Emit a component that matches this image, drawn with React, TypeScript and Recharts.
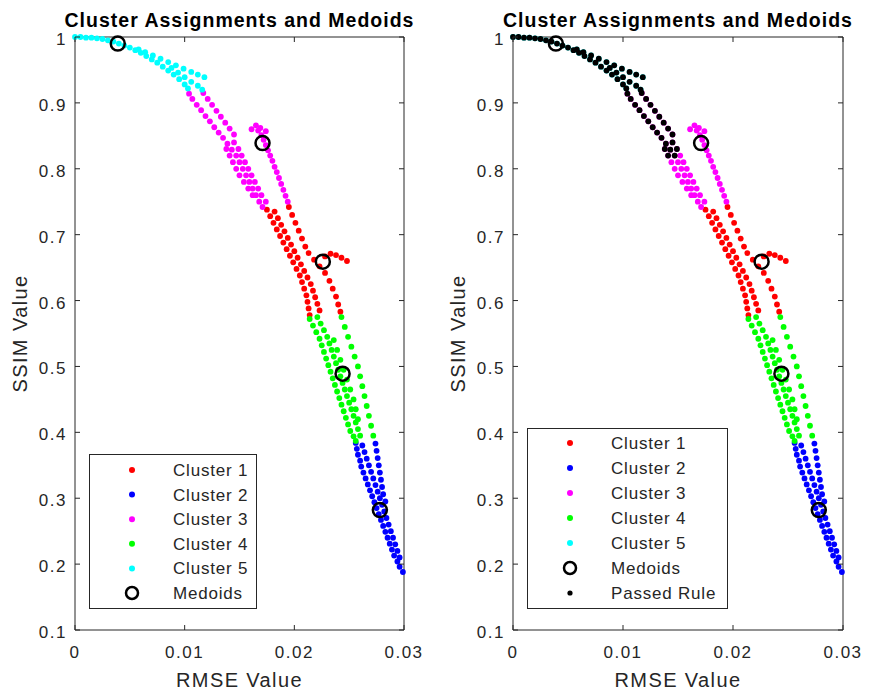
import { ScatterChart, Scatter, XAxis, YAxis, ReferenceArea, Legend } from 'recharts';

type Pt = [number, number];

// cluster 1 (red)
const CLUSTER_1: Pt[] = [
  [0.0175, 0.738], [0.0178, 0.728], [0.0181, 0.718], [0.0184, 0.708], [0.0187, 0.698], [0.019, 0.688],
  [0.0193, 0.678], [0.0196, 0.668], [0.0199, 0.658], [0.0202, 0.648], [0.0205, 0.638], [0.0207, 0.628],
  [0.0209, 0.618], [0.0211, 0.608], [0.0212, 0.598], [0.0213, 0.588], [0.0214, 0.578],
  [0.0182, 0.735], [0.0185, 0.725], [0.0188, 0.715], [0.0191, 0.705], [0.0194, 0.695], [0.0197, 0.685],
  [0.02, 0.675], [0.0203, 0.665], [0.0206, 0.655], [0.0209, 0.645], [0.0212, 0.635], [0.0215, 0.625],
  [0.0217, 0.615], [0.0219, 0.605], [0.0221, 0.595], [0.0223, 0.585],
  [0.0195, 0.742], [0.0198, 0.73], [0.0201, 0.718], [0.0204, 0.706], [0.0207, 0.694], [0.021, 0.682],
  [0.0213, 0.672], [0.0218, 0.662], [0.0223, 0.652], [0.0228, 0.642], [0.0232, 0.63], [0.0235, 0.618],
  [0.0238, 0.606], [0.024, 0.594], [0.0242, 0.583],
  [0.0228, 0.667], [0.0233, 0.671], [0.0238, 0.669], [0.0243, 0.665], [0.0248, 0.66],
];

// cluster 2 (blue)
const CLUSTER_2: Pt[] = [
  [0.0256, 0.384], [0.0257, 0.375], [0.0258, 0.366], [0.026, 0.357], [0.0261, 0.348], [0.0263, 0.339],
  [0.0265, 0.33], [0.0267, 0.321], [0.0269, 0.312], [0.0271, 0.303], [0.0273, 0.294], [0.0275, 0.285],
  [0.0277, 0.276], [0.0279, 0.267], [0.0281, 0.258], [0.0283, 0.249], [0.0285, 0.24], [0.0287, 0.231],
  [0.0289, 0.222], [0.0291, 0.213], [0.0294, 0.204], [0.0296, 0.196], [0.0299, 0.188],
  [0.0262, 0.38], [0.0264, 0.37], [0.0266, 0.36], [0.0268, 0.35], [0.027, 0.34], [0.0272, 0.33],
  [0.0274, 0.32], [0.0276, 0.31], [0.0278, 0.3], [0.028, 0.29], [0.0282, 0.28], [0.0284, 0.27],
  [0.0286, 0.26], [0.0288, 0.25], [0.029, 0.24], [0.0292, 0.23], [0.0294, 0.22], [0.0296, 0.21],
  [0.0274, 0.383], [0.0275, 0.372], [0.0276, 0.361], [0.0277, 0.35], [0.0278, 0.339], [0.0279, 0.328],
  [0.028, 0.317], [0.0281, 0.306], [0.0283, 0.295],
];

// cluster 3 (magenta)
const CLUSTER_3: Pt[] = [
  [0.0104, 0.914], [0.0107, 0.906], [0.0111, 0.897], [0.0115, 0.889], [0.0119, 0.88], [0.0123, 0.872],
  [0.0127, 0.863], [0.0131, 0.855], [0.0135, 0.847], [0.0139, 0.838], [0.0143, 0.829], [0.0147, 0.82],
  [0.015, 0.81], [0.0153, 0.8], [0.0156, 0.79], [0.0159, 0.78], [0.0162, 0.77], [0.0165, 0.76],
  [0.0168, 0.75], [0.0171, 0.742],
  [0.0145, 0.84], [0.0149, 0.83], [0.0152, 0.82], [0.0155, 0.81], [0.0158, 0.8], [0.0161, 0.79],
  [0.0164, 0.78], [0.0167, 0.77], [0.017, 0.76], [0.0174, 0.75],
  [0.0138, 0.83], [0.0141, 0.82], [0.0144, 0.81], [0.0147, 0.8], [0.015, 0.79], [0.0154, 0.78],
  [0.0158, 0.77], [0.0162, 0.76],
  [0.0117, 0.915], [0.0121, 0.906], [0.0125, 0.897], [0.0129, 0.888], [0.0133, 0.879], [0.0137, 0.87],
  [0.0141, 0.861], [0.0145, 0.852],
  [0.0161, 0.86], [0.0165, 0.866], [0.0169, 0.862], [0.0174, 0.857], [0.0167, 0.858], [0.017, 0.851],
  [0.0172, 0.844], [0.0174, 0.836], [0.0176, 0.828], [0.0178, 0.82], [0.018, 0.812], [0.0182, 0.803],
  [0.0184, 0.795], [0.0186, 0.786], [0.0188, 0.777], [0.019, 0.768], [0.0192, 0.759], [0.0194, 0.75],
];

// cluster 4 (green)
const CLUSTER_4: Pt[] = [
  [0.0214, 0.572], [0.0217, 0.562], [0.022, 0.552], [0.0223, 0.542], [0.0225, 0.532], [0.0227, 0.522],
  [0.0229, 0.512], [0.0231, 0.502], [0.0233, 0.492], [0.0235, 0.482], [0.0237, 0.472], [0.0239, 0.462],
  [0.0241, 0.452], [0.0243, 0.442], [0.0245, 0.432], [0.0247, 0.422], [0.0249, 0.412], [0.0251, 0.402],
  [0.0254, 0.394], [0.0256, 0.387],
  [0.0221, 0.575], [0.0224, 0.565], [0.0227, 0.555], [0.023, 0.545], [0.0232, 0.535], [0.0234, 0.525],
  [0.0236, 0.515], [0.0238, 0.505], [0.024, 0.495], [0.0242, 0.485], [0.0244, 0.475], [0.0246, 0.465],
  [0.0248, 0.455], [0.025, 0.445], [0.0252, 0.435], [0.0254, 0.425], [0.0256, 0.415], [0.0258, 0.405],
  [0.026, 0.395],
  [0.0236, 0.54], [0.0239, 0.525], [0.0242, 0.51], [0.0245, 0.495], [0.0248, 0.48], [0.0251, 0.465],
  [0.0254, 0.45], [0.0256, 0.435], [0.0258, 0.42],
  [0.0243, 0.575], [0.0246, 0.56], [0.0249, 0.545], [0.0252, 0.53], [0.0255, 0.515], [0.0258, 0.5],
  [0.026, 0.485], [0.0262, 0.47], [0.0264, 0.455], [0.0266, 0.44], [0.0268, 0.425], [0.027, 0.41],
  [0.0272, 0.395],
];

// cluster 5 (cyan)
const CLUSTER_5: Pt[] = [
  [0, 1], [0.0005, 1], [0.001, 0.999], [0.0015, 0.999], [0.002, 0.998], [0.0025, 0.997], [0.003, 0.995],
  [0.0035, 0.993], [0.004, 0.99], [0.0045, 0.987], [0.005, 0.984], [0.0055, 0.98], [0.006, 0.976],
  [0.0065, 0.971], [0.007, 0.966], [0.0075, 0.961], [0.008, 0.955], [0.0085, 0.949], [0.009, 0.943],
  [0.0095, 0.936], [0.01, 0.928], [0.0103, 0.922],
  [0.0058, 0.981], [0.0064, 0.977], [0.0071, 0.972], [0.0078, 0.967], [0.0085, 0.962], [0.0092, 0.957],
  [0.0099, 0.952], [0.0106, 0.947], [0.0112, 0.943], [0.0118, 0.939],
  [0.0088, 0.953], [0.0094, 0.946], [0.01, 0.939], [0.0106, 0.932], [0.0112, 0.926], [0.0116, 0.92],
];

const MEDOIDS: Pt[] = [[0.0226, 0.659], [0.0278, 0.282], [0.0171, 0.839], [0.0244, 0.489], [0.0039, 0.99]];

// points that passed the rule: cyan cluster plus upper-left part of magenta
const PASSED: Pt[] = [...CLUSTER_5, ...CLUSTER_3.filter(([x, y]) => y > 0.81 && x < 0.0152)];

const CLUSTERS = [CLUSTER_1, CLUSTER_2, CLUSTER_3, CLUSTER_4, CLUSTER_5];
const CLUSTER_NAMES = ['Cluster 1', 'Cluster 2', 'Cluster 3', 'Cluster 4', 'Cluster 5'];
const COLORS = ['#ff0000', '#0000ff', '#ff00ff', '#00ff00', '#00ffff'];

const X_TICKS = [0, 0.01, 0.02, 0.03];
const Y_TICKS = [0.1, 0.2, 0.3, 0.4, 0.5, 0.6, 0.7, 0.8, 0.9, 1];

const FONT = '"Liberation Sans", Arial, sans-serif';
const INK = '#262626';
const H = 696;
const TOP = 37;
const BOTTOM = 630;

const toObj = (pts: Pt[]) => pts.map(([x, y]) => ({ x, y }));

const dot = (color: string) => (p: any) => <circle cx={p.cx} cy={p.cy} r={2.9} fill={color} />;
const ring = (p: any) => <circle cx={p.cx} cy={p.cy} r={7} fill="none" stroke="#000" strokeWidth={2.5} />;

function LegendBox({ w, h, first, step, passed }: { w: number; h: number; first: number; step: number; passed: boolean }) {
  const rows = [...CLUSTER_NAMES, 'Medoids', ...(passed ? ['Passed Rule'] : [])];
  return (
    <svg width={w} height={h} style={{ display: 'block' }}>
      <rect x={0.5} y={0.5} width={w - 1} height={h - 1} fill="#fff" stroke={INK} />
      {rows.map((name, i) => {
        const cy = first + i * step;
        let mark;
        if (i < 5) mark = <circle cx={43} cy={cy} r={3} fill={COLORS[i]} />;
        else if (name === 'Medoids') mark = <circle cx={43} cy={cy} r={6} fill="none" stroke="#000" strokeWidth={2.5} />;
        else mark = <circle cx={43} cy={cy} r={2.6} fill="#000" />;
        return (
          <g key={name}>
            {mark}
            <text x={84} y={cy + 6} fontSize={17} letterSpacing={0.8} fontFamily={FONT} fill={INK}>{name}</text>
          </g>
        );
      })}
    </svg>
  );
}

function Panel({ pos, width, left, plotW, legend, passed }: {
  pos: number; width: number; left: number; plotW: number;
  legend: { x: number; y: number; w: number; h: number; first: number; step: number }; passed: boolean;
}) {
  const right = left + plotW;
  const cx = left + plotW / 2;
  const cy = (TOP + BOTTOM) / 2;
  return (
    <div style={{ position: 'absolute', left: pos, top: 0 }}>
      <ScatterChart
        width={width}
        height={H}
        margin={{ top: TOP, left: left - 1, right: width - right, bottom: H - BOTTOM - 1 }}
      >
        <XAxis
          type="number"
          dataKey="x"
          domain={[0, 0.03]}
          ticks={X_TICKS}
          interval={0}
          height={1}
          axisLine={false}
          tickLine={false}
          tickSize={0}
          tick={(p: any) => (
            <g>
              <line x1={p.x} x2={p.x} y1={BOTTOM} y2={BOTTOM - 5} stroke={INK} />
              <line x1={p.x} x2={p.x} y1={TOP} y2={TOP + 5} stroke={INK} />
              <text x={p.x} y={BOTTOM + 28} textAnchor="middle" fontSize={17} letterSpacing={1.5} fontFamily={FONT} fill={INK}>
                {String(p.payload.value)}
              </text>
            </g>
          )}
          label={() => (
            <text x={cx} y={BOTTOM + 57} textAnchor="middle" fontSize={20} letterSpacing={1.4} fontFamily={FONT} fill={INK}>
              RMSE Value
            </text>
          )}
        />
        <YAxis
          type="number"
          dataKey="y"
          domain={[0.1, 1]}
          ticks={Y_TICKS}
          interval={0}
          width={1}
          axisLine={false}
          tickLine={false}
          tickSize={0}
          tick={(p: any) => (
            <g>
              <line x1={left} x2={left + 5} y1={p.y} y2={p.y} stroke={INK} />
              <line x1={right} x2={right - 5} y1={p.y} y2={p.y} stroke={INK} />
              <text x={left - 8} y={p.y + 8} textAnchor="end" fontSize={17} letterSpacing={1.5} fontFamily={FONT} fill={INK}>
                {String(p.payload.value)}
              </text>
            </g>
          )}
          label={() => (
            <text
              x={left - 48}
              y={cy}
              textAnchor="middle"
              fontSize={20}
              letterSpacing={1.4}
              fontFamily={FONT}
              fill={INK}
              transform={`rotate(-90 ${left - 48} ${cy})`}
            >
              SSIM Value
            </text>
          )}
        />
        <ReferenceArea
          x1={0}
          x2={0.03}
          y1={0.1}
          y2={1}
          fill="none"
          stroke={INK}
          strokeWidth={1}
          label={() => (
            <text x={cx} y={TOP - 10} textAnchor="middle" fontSize={19.5} letterSpacing={1} fontWeight="bold" fontFamily={FONT} fill="#000">
              Cluster Assignments and Medoids
            </text>
          )}
        />
        {CLUSTERS.map((c, i) => (
          <Scatter key={i} name={CLUSTER_NAMES[i]} data={toObj(c)} shape={dot(COLORS[i])} isAnimationActive={false} />
        ))}
        {passed && <Scatter name="Passed Rule" data={toObj(PASSED)} shape={dot('#000')} isAnimationActive={false} />}
        <Scatter name="Medoids" data={toObj(MEDOIDS)} shape={ring} isAnimationActive={false} />
        <Legend
          layout="horizontal"
          verticalAlign="middle"
          align="center"
          wrapperStyle={{ left: legend.x - pos, top: legend.y, width: legend.w, height: legend.h }}
          content={() => <LegendBox w={legend.w} h={legend.h} first={legend.first} step={legend.step} passed={passed} />}
        />
      </ScatterChart>
    </div>
  );
}

export default function App() {
  return (
    <div style={{ position: 'absolute', left: 0, top: 0, width: 871, height: H, background: '#fff' }}>
      <Panel pos={0} width={436} left={75} plotW={329} legend={{ x: 89, y: 454, w: 168, h: 155, first: 16, step: 24.6 }} passed={false} />
      <Panel pos={436} width={435} left={77} plotW={330} legend={{ x: 527, y: 428, w: 201, h: 181, first: 15, step: 25 }} passed={true} />
    </div>
  );
}
